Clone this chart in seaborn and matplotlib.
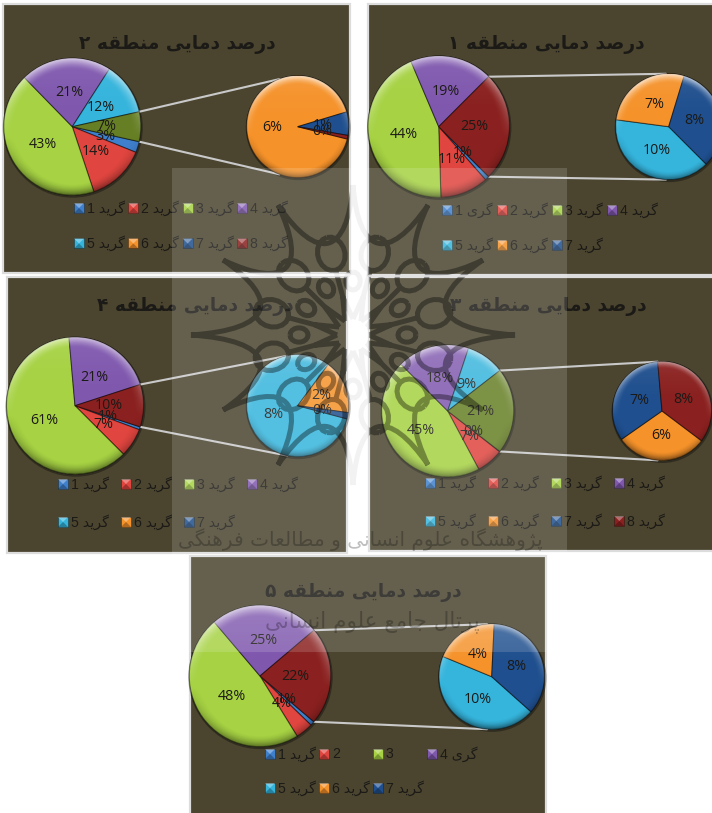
import numpy as np
import seaborn as sns
import matplotlib
matplotlib.use("Agg")
import matplotlib.pyplot as plt
from matplotlib.patches import Rectangle, Circle, PathPatch, Polygon
from matplotlib.path import Path

# ------------------------------------------------------------------ data
region_titles = ["درصد دمایی منطقه ۲", "درصد دمایی منطقه ۱", "درصد دمایی منطقه ۴",
                 "درصد دمایی منطقه ۳", "درصد دمایی منطقه ۵"]
grade_word = "گرید"

main_r2 = [2.6, 13.8, 42.8, 21.4, 12.4, 7.0]
main_r1 = [1.0, 11.0, 44.1, 18.9, 25.0]
main_r4 = [0.7, 6.8, 61.1, 21.4, 10.0]
main_r3 = [0.1, 6.6, 45.3, 17.6, 9.4, 21.0]
main_r5 = [1.0, 4.0, 47.6, 25.0, 22.4]

detail_r2 = [6.4, 0.52, 0.08]
detail_r1 = [9.9, 6.9, 8.2]
detail_r4 = [8.1, 1.7, 0.2]
detail_r3 = [6.3, 7.0, 7.7]
detail_r5 = [9.85, 4.3, 7.9]

# ------------------------------------------------------------------ colours
BLUE, RED, GREEN, PURPLE, CYAN, ORANGE, NAVY, MAROON, OLIVE = sns.color_palette(
    ["#3f80cc", "#e0453f", "#a6d243", "#7f58ae", "#35b4dc",
     "#f5922a", "#1f4f8e", "#8a2120", "#667f25"])
GRADE_COLORS = [BLUE, RED, GREEN, PURPLE, CYAN, ORANGE, NAVY, MAROON]

PANEL_BG = "#4b4530"
FRAME = "#dcdcdc"
INK = "#1c1a16"
LINE = "#c9c9c9"

sns.set_theme(style="white")
plt.rcParams["font.family"] = ["Open Sans", "DejaVu Sans"]

W, H = 712, 813
fig = plt.figure(figsize=(W / 100, H / 100), dpi=100, facecolor="white")
ax = fig.add_axes([0, 0, 1, 1])


def Y(y):
    return H - y


# ------------------------------------------------------------------ Persian shaping
FORMS = {
    "ا": (0xFE8D, 0xFE8E), "د": (0xFEA9, 0xFEAA), "ر": (0xFEAD, 0xFEAE), "ز": (0xFEAF, 0xFEB0),
    "ژ": (0xFB8A, 0xFB8B), "و": (0xFEED, 0xFEEE),
    "ب": (0xFE8F, 0xFE90, 0xFE91, 0xFE92), "پ": (0xFB56, 0xFB57, 0xFB58, 0xFB59),
    "ت": (0xFE95, 0xFE96, 0xFE97, 0xFE98), "ج": (0xFE9D, 0xFE9E, 0xFE9F, 0xFEA0),
    "س": (0xFEB1, 0xFEB2, 0xFEB3, 0xFEB4), "ش": (0xFEB5, 0xFEB6, 0xFEB7, 0xFEB8),
    "ص": (0xFEB9, 0xFEBA, 0xFEBB, 0xFEBC), "ط": (0xFEC1, 0xFEC2, 0xFEC3, 0xFEC4),
    "ع": (0xFEC9, 0xFECA, 0xFECB, 0xFECC), "ف": (0xFED1, 0xFED2, 0xFED3, 0xFED4),
    "ق": (0xFED5, 0xFED6, 0xFED7, 0xFED8), "ک": (0xFB8E, 0xFB8F, 0xFB90, 0xFB91),
    "گ": (0xFB92, 0xFB93, 0xFB94, 0xFB95), "ل": (0xFEDD, 0xFEDE, 0xFEDF, 0xFEE0),
    "م": (0xFEE1, 0xFEE2, 0xFEE3, 0xFEE4), "ن": (0xFEE5, 0xFEE6, 0xFEE7, 0xFEE8),
    "ه": (0xFEE9, 0xFEEA, 0xFEEB, 0xFEEC), "ی": (0xFBFC, 0xFBFD, 0xFBFE, 0xFBFF),
}


def shape(text):
    """Contextual forms in visual (left-to-right) order."""
    out = []
    for word in text.split(" "):
        glyphs = []
        for i, ch in enumerate(word):
            if ch not in FORMS:
                glyphs.append(ch)
                continue
            prev = word[i - 1] if i else ""
            nxt = word[i + 1] if i + 1 < len(word) else ""
            joins_prev = prev in FORMS and len(FORMS[prev]) == 4
            joins_next = nxt in FORMS and len(FORMS[ch]) == 4
            form = FORMS[ch]
            if joins_prev and joins_next:
                glyphs.append(chr(form[3]))
            elif joins_prev:
                glyphs.append(chr(form[1]))
            elif joins_next:
                glyphs.append(chr(form[2]))
            else:
                glyphs.append(chr(form[0]))
        out.append("".join(reversed(glyphs)))
    return " ".join(reversed(out))


# ------------------------------------------------------------------ gloss texture
n = 240
gy, gx = np.mgrid[1:-1:n * 1j, -1:1:n * 1j]
rr = np.hypot(gx, gy)
rim = np.clip((rr - 0.84) / 0.16, 0, 1) ** 1.5
light = np.clip(gy + 0.15, 0, 1)
dark = np.clip(-gy - 0.15, 0, 1)
gloss = np.zeros((n, n, 4))
gloss[..., :3] = (gy + 0.15 > 0)[..., None] * 1.0
gloss[..., 3] = rim * (0.62 * light + 0.55 * dark) + 0.08 * np.clip(gy, 0, 1) ** 2


def glossy_pie(values, center, radius, colors, start):
    cx, cy = center[0], Y(center[1])
    ax.add_patch(Circle((cx + 0.5, cy - 1), radius + 1.5, fc="black", alpha=0.35, ec="none", zorder=1))
    labels = [f"{int(v + 0.5)}%" for v in values]
    wedges, texts = ax.pie(values, colors=colors, labels=labels, labeldistance=0.5,
                           center=(cx, cy), radius=radius, startangle=start,
                           counterclock=False, frame=True, normalize=True,
                           wedgeprops=dict(edgecolor=(0, 0, 0, 0.45), linewidth=0.8, zorder=2))
    for t in texts:
        t.set(ha="center", va="center", fontsize=10.3, color=INK, zorder=5)
    im = ax.imshow(gloss, extent=(cx - radius, cx + radius, cy - radius, cy + radius),
                   origin="upper", zorder=3, aspect="equal", interpolation="bilinear")
    im.set_clip_path(Circle((cx, cy), radius, transform=ax.transData))


def draw_region(title, title_xy, box, main, main_c, main_r, main_colors,
                detail, detail_c, detail_r, detail_colors, detail_start, tangent,
                legend_xy, pitch, rows):
    x0, y0, x1, y1 = box
    ax.add_patch(Rectangle((x0, Y(y1)), x1 - x0, y1 - y0, fc=PANEL_BG, ec=FRAME, lw=1.6, zorder=0))
    ax.text(title_xy[0], Y(title_xy[1]), shape(title), ha="center", va="center", fontsize=13.4,
            fontweight="bold", family="DejaVu Sans", color=INK, zorder=5)
    half = main[-1] / sum(main) * 180.0
    for sign in (1, -1):
        a = np.deg2rad(half) * sign
        b = np.deg2rad(tangent) * sign
        ax.plot([main_c[0] + main_r * np.cos(a), detail_c[0] + detail_r * np.cos(b)],
                [Y(main_c[1]) + main_r * np.sin(a), Y(detail_c[1]) + detail_r * np.sin(b)],
                color=LINE, lw=1.5, zorder=1.5, solid_capstyle="round")
    glossy_pie(main, main_c, main_r, main_colors, -half)
    glossy_pie(detail, detail_c, detail_r, detail_colors, detail_start)
    for row_items, ly in zip(rows, legend_xy[1]):
        for col, (idx, label) in enumerate(row_items):
            sx = legend_xy[0] + col * pitch
            sy = Y(ly) - 5
            s = 10
            ax.add_patch(Rectangle((sx, sy), s, s, fc=GRADE_COLORS[idx],
                                   ec=(0, 0, 0, 0.35), lw=0.6, zorder=4))
            ax.add_patch(Polygon([(sx, sy + s), (sx + s, sy + s), (sx + s / 2, sy + s / 2)],
                                 fc=(1, 1, 1, 0.35), ec="none", zorder=4.1))
            ax.add_patch(Polygon([(sx, sy), (sx + s, sy), (sx + s / 2, sy + s / 2)],
                                 fc=(0, 0, 0, 0.28), ec="none", zorder=4.1))
            ax.text(sx + 13, Y(ly), label, ha="left", va="center", fontsize=10.2,
                    family=["Liberation Sans", "DejaVu Sans"], color=INK, zorder=5)


def lab(i, word=grade_word):
    return shape(f"{word} {i}") if word else str(i)


def row(idx, words=None):
    words = words or [grade_word] * len(idx)
    return [(i - 1, lab(i, w)) for i, w in zip(idx, words)]


draw_region(region_titles[0], (177, 45), (3, 4, 350, 273),
            main_r2, (72.3, 126.7), 68.5, [BLUE, RED, GREEN, PURPLE, CYAN, OLIVE],
            detail_r2, (297.7, 126.7), 51, [ORANGE, NAVY, MAROON], -14, 111,
            (74, (208, 243.5)), 54.3, [row([1, 2, 3, 4]), row([5, 6, 7, 8])])
draw_region(region_titles[1], (546, 45), (368, 4, 716, 275),
            main_r1, (438.7, 126.7), 70.7, [BLUE, RED, GREEN, PURPLE, MAROON],
            detail_r1, (668.7, 126.7), 53, [CYAN, ORANGE, NAVY], -45, 93,
            (442, (210, 245)), 55, [row([1, 2, 3, 4], ["گری", grade_word, grade_word, grade_word]),
                                    row([5, 6, 7])])
draw_region(region_titles[2], (195, 307), (7, 277, 347, 553),
            main_r4, (75, 405.7), 68.5, [BLUE, RED, GREEN, PURPLE, MAROON],
            detail_r4, (297.7, 405.7), 51, [CYAN, ORANGE, NAVY], -15, 102,
            (58, (484, 522)), 63, [row([1, 2, 3, 4]), row([5, 6, 7])])
draw_region(region_titles[3], (548, 307), (369, 277, 716, 551),
            main_r3, (447.7, 411), 66, [BLUE, RED, GREEN, PURPLE, CYAN, OLIVE],
            detail_r3, (662, 411), 49.5, [ORANGE, NAVY, MAROON], -37, 95,
            (425.3, (483, 521)), 63, [row([1, 2, 3, 4]), row([5, 6, 7, 8])])
draw_region(region_titles[4], (363, 592), (190, 556, 546, 818),
            main_r5, (260, 676), 70.7, [BLUE, RED, GREEN, PURPLE, MAROON],
            detail_r5, (491.7, 676.7), 52.7, [CYAN, ORANGE, NAVY], -41.7, 95,
            (265, (754, 788)), 54, [row([1, 2, 3, 4], [grade_word, "", "", "گری"]), row([5, 6, 7])])

# ------------------------------------------------------------------ translucent watermark sheet
OV = (172, 168, 567, 652)
ax.add_patch(Rectangle((OV[0], Y(OV[3])), OV[2] - OV[0], OV[3] - OV[1], fc="white", ec="none",
                       alpha=0.15, zorder=8))

lc, lcy = 353, 335
verts, codes = [], []


def polar(r, deg):
    return (lc + r * np.cos(np.deg2rad(deg)), Y(lcy) + r * np.sin(np.deg2rad(deg)))


def add_loop(center, radius, squash=1.0, tilt=0.0):
    t = np.deg2rad(np.arange(0, 361, 20))
    c, s = np.cos(np.deg2rad(tilt)), np.sin(np.deg2rad(tilt))
    pts = []
    for q in t:
        u, v = radius * np.cos(q), radius * squash * np.sin(q)
        pts.append((center[0] + u * c - v * s, center[1] + u * s + v * c))
    verts.extend(pts)
    codes.extend([Path.MOVETO] + [Path.LINETO] * (len(pts) - 1))


for k in range(12):
    a = 30 * k
    r0 = 162 if k % 6 == 0 else 150
    r1 = 162 if (k + 1) % 6 == 0 else 150
    verts += [polar(r0, a), polar(80, a + 4), polar(80, a + 26), polar(r1, a + 30)]
    codes += [Path.MOVETO, Path.CURVE4, Path.CURVE4, Path.CURVE4]
    add_loop(polar(84, a + 15), 17, 0.8, a + 15)
    add_loop(polar(54, a), 9, 0.8, a)
    verts += [polar(16, a), polar(40, a + 15), polar(16, a + 30)]
    codes += [Path.MOVETO, Path.LINETO, Path.LINETO]
    verts += [polar(30, a + 15), polar(66, a + 15)]
    codes += [Path.MOVETO, Path.LINETO]
logo = Path(verts, codes)

panel_boxes = [(3, 4, 350, 273), (368, 4, 716, 275), (7, 277, 347, 553), (369, 277, 716, 551), (190, 556, 546, 818)]
cv, cc = [], []
for b in panel_boxes:
    bx0, by0, bx1, by1 = max(b[0], OV[0]), max(b[1], OV[1]), min(b[2], OV[2]), min(b[3], OV[3])
    cv += [(bx0, Y(by0)), (bx1, Y(by0)), (bx1, Y(by1)), (bx0, Y(by1)), (bx0, Y(by0))]
    cc += [Path.MOVETO, Path.LINETO, Path.LINETO, Path.LINETO, Path.CLOSEPOLY]
sheet_clip = Path(cv, cc)

strong = PathPatch(logo, fc="none", ec="black", lw=3.6, alpha=0.33, zorder=9)
ax.add_patch(strong)
strong.set_clip_path(sheet_clip, ax.transData)
ax.add_patch(PathPatch(logo, fc="none", ec="black", lw=3.6, alpha=0.05, zorder=9))

wm_line1 = "پژوهشگاه علوم انسانی و مطالعات فرهنگی"
wm_line2 = "پرتال جامع علوم انسانی"
for txt, (tx, ty), fs in ((wm_line1, (360, 540), 14.5), (wm_line2, (372, 622), 15.5)):
    ax.text(tx, Y(ty), shape(txt), ha="center", va="center", fontsize=fs, family="DejaVu Sans",
            color="black", alpha=0.25, zorder=9)

ax.set_xlim(0, W)
ax.set_ylim(0, H)
ax.set_aspect("auto")
ax.axis("off")
fig.savefig("out.png", dpi=100, facecolor="white")
